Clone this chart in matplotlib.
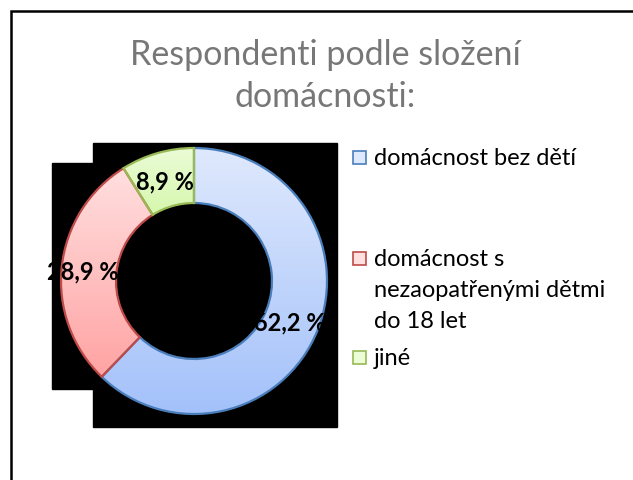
import matplotlib
matplotlib.use("Agg")
import matplotlib.pyplot as plt
import matplotlib.patches as mpatches
import numpy as np
from matplotlib.colors import to_rgb

plt.rcParams['font.family'] = ['Lato', 'DejaVu Sans']

title = "Respondenti podle složení\ndomácnosti:"
categories = ["domácnost bez dětí",
              "domácnost s\nnezaopatřenými dětmi\ndo 18 let",
              "jiné"]
values = [62.2, 28.9, 8.9]

edge_colors = ["#4a7ebb", "#be4b48", "#98b954"]
grad_top = ["#dfe9fd", "#ffdfdf", "#ebfcd6"]
grad_bottom = ["#a3c1fa", "#ffa3a3", "#d6f7ad"]

W, H = 633, 480


def py(y):
    # pixel row from top -> data y
    return H - y


fig = plt.figure(figsize=(W / 100, H / 100), dpi=100)
fig.patch.set_facecolor("white")
ax = fig.add_axes([0, 0, 1, 1])

# black blocks behind the doughnut
ax.add_patch(mpatches.Rectangle((93, py(427)), 244, 284, color="black", zorder=0))
ax.add_patch(mpatches.Rectangle((52, py(389)), 45, 226, color="black", zorder=0))

cx, cy, r_out, r_in = 194, py(281), 133, 78
wedges, texts, autotexts = ax.pie(
    values, center=(cx, cy), radius=r_out, startangle=90, counterclock=False,
    wedgeprops=dict(width=r_out - r_in, linewidth=1.6),
    autopct=lambda p: f"{p:.1f} %".replace(".", ","), pctdistance=0.8,
    textprops=dict(fontsize=17, fontweight="bold", color="black"))

for w, ec, c0, c1 in zip(wedges, edge_colors, grad_top, grad_bottom):
    w.set_edgecolor(ec)
    w.set_facecolor("none")
    w.set_zorder(3)
    bb = w.get_path().get_extents()
    t = np.linspace(0, 1, 128)[:, None]
    img = (1 - t) * np.array(to_rgb(c1)) + t * np.array(to_rgb(c0))
    im = ax.imshow(img[:, None, :], extent=[bb.x0, bb.x1, bb.y0, bb.y1],
                   origin="lower", aspect="auto", zorder=2, interpolation="bilinear")
    im.set_clip_path(w)
for t in autotexts:
    t.set_zorder(5)

# nudge labels to where the original puts them
autotexts[0].set_position((290, py(323)))
autotexts[1].set_position((83, py(272)))
autotexts[2].set_position((165, py(182)))

# title, one text per line
for i, line in enumerate(title.split("\n")):
    ax.text(325, py(65 + 42 * i), line, ha="center", va="baseline",
            fontsize=24.5, color="#777777")

# legend, drawn by hand to keep the uneven spacing
leg_base = [165, 266, 365]
for lab, yb, ec, c0 in zip(categories, leg_base, edge_colors, grad_top):
    ax.add_patch(mpatches.Rectangle((353, py(yb) + 1.5), 13, 13, facecolor=c0,
                                    edgecolor=ec, linewidth=1.2, zorder=3))
    for j, line in enumerate(lab.split("\n")):
        ax.text(374, py(yb + 31 * j), line, ha="left", va="baseline",
                fontsize=17, color="black")

# outer frame
ax.add_patch(mpatches.Rectangle((10.5, -20), 700, py(11) + 20, fill=False,
                                edgecolor="black", linewidth=1.8, zorder=6))

ax.set_xlim(0, W)
ax.set_ylim(0, H)
ax.set_aspect("auto")
ax.axis("off")

fig.savefig("out.png", dpi=100, facecolor="white")
